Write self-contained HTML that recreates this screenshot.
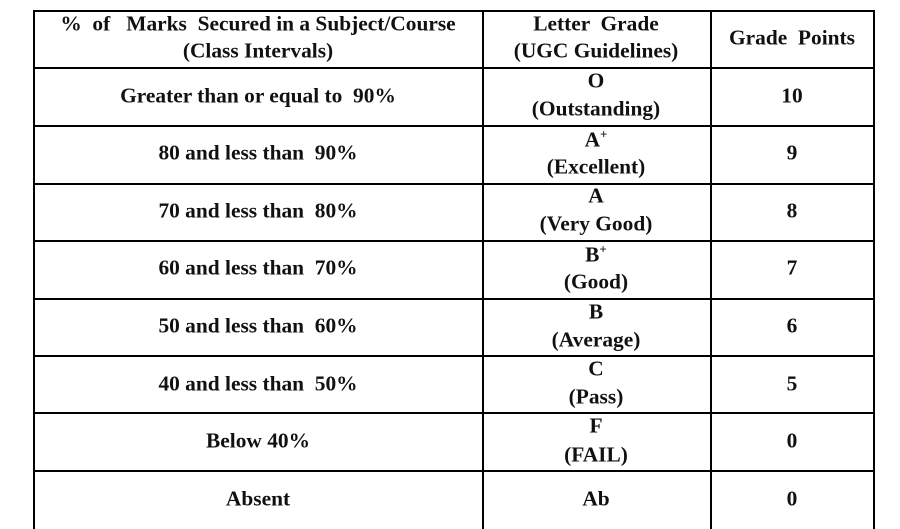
<!DOCTYPE html>
<html><head><style>
body{margin:0;width:900px;height:529px;background:#fff;position:relative;overflow:hidden;font-family:"Liberation Serif",serif;font-weight:bold;font-size:21.4px;color:#111}
.h{position:absolute;height:1.5px;background:#000;left:33px;width:841px}
.v{position:absolute;width:1.5px;background:#000;top:10px;height:519px}
.t{position:absolute;transform:translate(-50%,-50%);white-space:pre;line-height:1}
sup{font-size:13px;vertical-align:8px}
</style></head><body>
<div class="h" style="top:10px"></div>
<div class="h" style="top:67px"></div>
<div class="h" style="top:125px"></div>
<div class="h" style="top:183px"></div>
<div class="h" style="top:240px"></div>
<div class="h" style="top:298px"></div>
<div class="h" style="top:355px"></div>
<div class="h" style="top:412px"></div>
<div class="h" style="top:470px"></div>
<div class="v" style="left:33px"></div>
<div class="v" style="left:482px"></div>
<div class="v" style="left:710px"></div>
<div class="v" style="left:873px"></div>

<div class="t" style="left:258px;top:24px">%  of   Marks  Secured in a Subject/Course</div>
<div class="t" style="left:258px;top:51px">(Class Intervals)</div>
<div class="t" style="left:596px;top:24px">Letter  Grade</div>
<div class="t" style="left:596px;top:51px">(UGC Guidelines)</div>
<div class="t" style="left:792px;top:38px">Grade  Points</div>

<div class="t" style="left:258px;top:96px">Greater than or equal to  90%</div>
<div class="t" style="left:596px;top:81px">O</div>
<div class="t" style="left:596px;top:109px">(Outstanding)</div>
<div class="t" style="left:792px;top:96px">10</div>

<div class="t" style="left:258px;top:153px">80 and less than  90%</div>
<div class="t" style="left:596px;top:139px">A<sup>+</sup></div>
<div class="t" style="left:596px;top:167px">(Excellent)</div>
<div class="t" style="left:792px;top:153px">9</div>

<div class="t" style="left:258px;top:211px">70 and less than  80%</div>
<div class="t" style="left:596px;top:196px">A</div>
<div class="t" style="left:596px;top:224px">(Very Good)</div>
<div class="t" style="left:792px;top:211px">8</div>

<div class="t" style="left:258px;top:268px">60 and less than  70%</div>
<div class="t" style="left:596px;top:254px">B<sup>+</sup></div>
<div class="t" style="left:596px;top:282px">(Good)</div>
<div class="t" style="left:792px;top:268px">7</div>

<div class="t" style="left:258px;top:326px">50 and less than  60%</div>
<div class="t" style="left:596px;top:312px">B</div>
<div class="t" style="left:596px;top:340px">(Average)</div>
<div class="t" style="left:792px;top:326px">6</div>

<div class="t" style="left:258px;top:384px">40 and less than  50%</div>
<div class="t" style="left:596px;top:369px">C</div>
<div class="t" style="left:596px;top:397px">(Pass)</div>
<div class="t" style="left:792px;top:384px">5</div>

<div class="t" style="left:258px;top:441px">Below 40%</div>
<div class="t" style="left:596px;top:426px">F</div>
<div class="t" style="left:596px;top:455px">(FAIL)</div>
<div class="t" style="left:792px;top:441px">0</div>

<div class="t" style="left:258px;top:499px">Absent</div>
<div class="t" style="left:596px;top:499px">Ab</div>
<div class="t" style="left:792px;top:499px">0</div>
</body></html>
